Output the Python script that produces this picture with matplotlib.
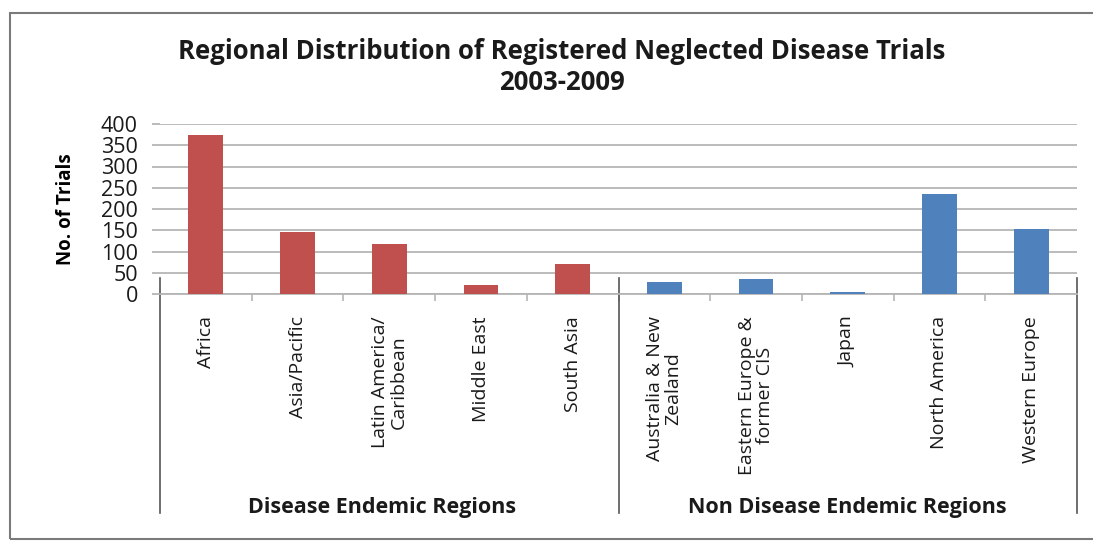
import matplotlib.pyplot as plt
from matplotlib.lines import Line2D
from matplotlib.patches import Rectangle

plt.rcParams['font.family'] = ['Open Sans', 'DejaVu Sans']

# Trial counts per region, 2003-2009
regions_endemic = ["Africa", "Asia/Pacific", "Latin America/\nCaribbean", "Middle East", "South Asia"]
trials_endemic = [373, 145, 118, 22, 71]
regions_non_endemic = ["Australia & New\nZealand", "Eastern Europe &\nformer CIS", "Japan",
                       "North America", "Western Europe"]
trials_non_endemic = [29, 36, 5, 236, 154]
group_names = ["Disease Endemic Regions", "Non Disease Endemic Regions"]
y_ticks = [0, 50, 100, 150, 200, 250, 300, 350, 400]

red = "#C0504D"
blue = "#4F81BD"
grid_col = "#B5B5B5"

fig = plt.figure(figsize=(10.93, 5.45), dpi=100)
ax = fig.add_axes([160 / 1093, 251 / 545, 917 / 1093, 170 / 545])

labels = regions_endemic + regions_non_endemic
values = trials_endemic + trials_non_endemic
colors = [red] * len(trials_endemic) + [blue] * len(trials_non_endemic)
x = list(range(len(values)))
ax.bar(x, values, width=0.38, color=colors, zorder=3)

ax.set_xlim(-0.5, len(values) - 0.5)
ax.set_ylim(0, 400)
ax.set_yticks(y_ticks)
ax.yaxis.grid(True, color=grid_col, linewidth=1.3, zorder=0)
ax.tick_params(axis="y", length=6, color=grid_col, width=1.3, pad=10, labelsize=15.5,
               labelcolor="#1a1a1a")
for s in ["left", "right", "top"]:
    ax.spines[s].set_visible(False)
ax.spines["bottom"].set_color(grid_col)
ax.spines["bottom"].set_linewidth(1.3)

# ticks between categories
ax.set_xticks([i + 0.5 for i in range(len(values) - 1)])
ax.set_xticklabels([])
ax.tick_params(axis="x", length=5, color=grid_col, width=1.2)

for i, lab in enumerate(labels):
    ax.annotate(lab, xy=(i, 0), xycoords=("data", "axes fraction"),
                xytext=(0, -16), textcoords="offset points",
                rotation=90, ha="center", va="top", fontsize=14,
                multialignment="center", linespacing=1.05, color="#1a1a1a")

# group separators and labels
n1 = len(trials_endemic)
for xs in [-0.5, n1 - 0.5, len(values) - 0.5]:
    ax.add_line(Line2D([xs, xs], [0.095, -1.29], transform=ax.get_xaxis_transform(),
                       color="#555555", linewidth=1.2, clip_on=False))
centers = [(n1 - 1) / 2 - 0.08, n1 + (len(trials_non_endemic) - 1) / 2]
for c, g in zip(centers, group_names):
    ax.text(c, -1.255, g, transform=ax.get_xaxis_transform(), ha="center", va="center",
            fontsize=15.5, fontweight="bold", color="#1a1a1a")

ax.set_ylabel("No. of Trials", fontsize=13.5, fontweight="bold", labelpad=18)

fig.text(562 / 1093, 1 - 67 / 545, "Regional Distribution of Registered Neglected Disease Trials\n2003-2009",
         ha="center", va="center", fontsize=18.5, fontweight="bold", linespacing=1.2, color="#1a1a1a")

# chart frame
fig.patches.append(Rectangle((10 / 1093, 6 / 545), 1.1, 1 - 19 / 545, transform=fig.transFigure,
                             fill=False, edgecolor="#7a7a7a", linewidth=1.5))

fig.savefig("out.png", dpi=100)
